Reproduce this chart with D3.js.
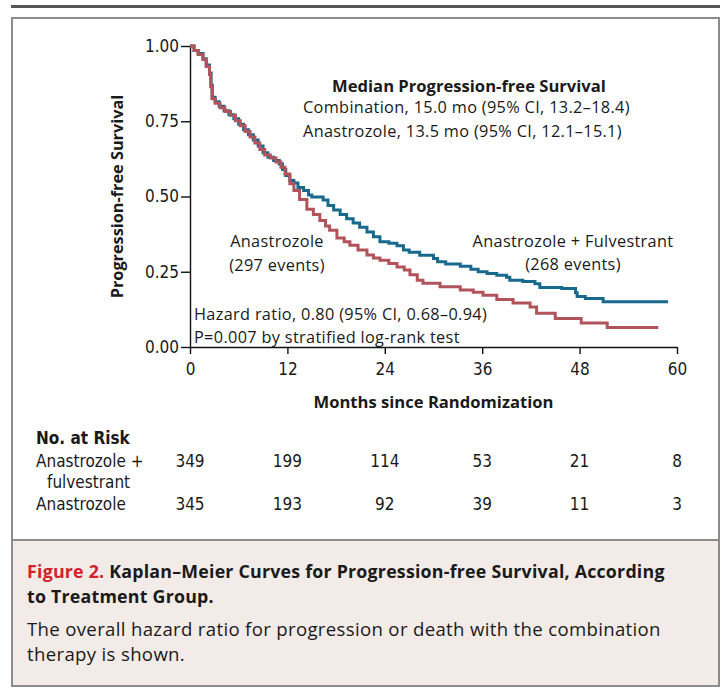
<!DOCTYPE html>
<html>
<head>
<meta charset="utf-8">
<script src="https://cdn.jsdelivr.net/npm/d3@7/dist/d3.min.js"></script>
<style>
  body { margin: 0; background: #fff; }
  svg text { fill: #1a1a1a; }
  .cond { font-family: "Liberation Sans Narrow", "DejaVu Sans Condensed", sans-serif; }
  .hum { font-family: "Open Sans", Lato, sans-serif; }
</style>
</head>
<body>
<svg id="chart" width="723" height="689"></svg>
<script>
// data: Kaplan-Meier step points [months, survival]
var comboCurve = [
  [0, 1.000], [0.5, 0.985], [1.0, 0.975], [1.6, 0.958], [2.0, 0.937], [2.4, 0.910],
  [2.6, 0.870], [2.75, 0.830], [3.1, 0.815], [3.6, 0.800], [4.2, 0.785], [4.8, 0.772],
  [5.4, 0.758], [6.0, 0.740], [6.6, 0.722], [7.2, 0.705], [7.8, 0.688], [8.4, 0.668],
  [9.0, 0.645], [9.6, 0.630], [10.3, 0.620], [11.0, 0.608], [11.4, 0.590], [11.8, 0.570],
  [12.3, 0.553], [12.8, 0.545], [13.3, 0.530], [14.0, 0.520], [14.6, 0.505], [15.0, 0.498],
  [16.4, 0.488], [17.0, 0.470], [17.7, 0.455], [18.5, 0.440], [19.3, 0.426], [20.1, 0.412],
  [20.9, 0.398], [21.8, 0.382], [22.6, 0.366], [23.4, 0.350], [24.5, 0.345], [25.5, 0.336],
  [26.3, 0.322], [27.0, 0.315], [28.3, 0.305], [30.0, 0.294], [30.5, 0.283], [31.5, 0.276],
  [33.3, 0.268], [34.6, 0.258], [35.5, 0.250], [36.6, 0.244], [37.8, 0.238], [39.0, 0.232],
  [39.4, 0.222], [41.0, 0.218], [42.5, 0.210], [43.1, 0.198], [45.8, 0.194], [47.5, 0.180],
  [47.7, 0.168], [48.7, 0.161], [50.9, 0.150], [58.9, 0.150]
];
var anaCurve = [
  [0, 1.000], [0.5, 0.985], [1.0, 0.972], [1.6, 0.955], [2.0, 0.932], [2.4, 0.905],
  [2.55, 0.865], [2.7, 0.825], [3.1, 0.810], [3.7, 0.795], [4.3, 0.782], [5.0, 0.770],
  [5.6, 0.752], [6.2, 0.735], [6.8, 0.716], [7.4, 0.698], [8.0, 0.678], [8.6, 0.656],
  [9.2, 0.638], [9.9, 0.628], [10.6, 0.615], [11.2, 0.597], [11.7, 0.575], [12.3, 0.542],
  [12.8, 0.520], [13.5, 0.490], [14.4, 0.458], [15.2, 0.440], [16.0, 0.420], [16.7, 0.402],
  [17.2, 0.388], [18.1, 0.362], [19.0, 0.350], [19.7, 0.338], [20.7, 0.322], [21.8, 0.306],
  [22.6, 0.296], [23.4, 0.288], [24.5, 0.277], [25.5, 0.266], [26.4, 0.256], [27.1, 0.240],
  [28.0, 0.222], [28.7, 0.212], [30.8, 0.200], [33.3, 0.189], [34.9, 0.182], [36.1, 0.172],
  [37.8, 0.158], [39.8, 0.146], [41.9, 0.133], [42.7, 0.112], [45.0, 0.095], [48.2, 0.080],
  [51.4, 0.065], [57.7, 0.065]
];
var monthTicks = [0, 12, 24, 36, 48, 60];
var survTicks = [0, 0.25, 0.5, 0.75, 1];
var riskCombo = [349, 199, 114, 53, 21, 8];
var riskAna = [345, 193, 92, 39, 11, 3];

var svg = d3.select('#chart');

// frame: heavy rule on top, boxed panel, tinted caption area
svg.append('rect').attr('x', 11).attr('y', 5).attr('width', 709).attr('height', 3).attr('fill', '#555');
svg.append('rect').attr('x', 11).attr('y', 540).attr('width', 709).attr('height', 147).attr('fill', '#f2ebe7');
svg.append('rect')
  .attr('x', 12).attr('y', 18).attr('width', 707).attr('height', 668)
  .attr('fill', 'none').attr('stroke', '#8c8c8c').attr('stroke-width', 2);
svg.append('line').attr('x1', 12).attr('x2', 719).attr('y1', 540).attr('y2', 540)
  .attr('stroke', '#8c8c8c').attr('stroke-width', 2);

var x = d3.scaleLinear().domain([0, 60]).range([190, 677]);
var y = d3.scaleLinear().domain([0, 1]).range([347, 46]);

var plot = svg.append('g');

var xAxis = plot.append('g')
  .attr('transform', 'translate(0,' + y(0) + ')')
  .call(d3.axisBottom(x).tickValues(monthTicks).tickSize(7).tickSizeOuter(0));
xAxis.select('.domain').attr('stroke', '#111').attr('stroke-width', 1.4);
xAxis.selectAll('.tick line').attr('stroke', '#111').attr('stroke-width', 1.4);
xAxis.selectAll('.tick text')
  .attr('class', 'cond').attr('font-size', 17).attr('dy', '1.05em').attr('fill', '#1a1a1a');

var yAxis = plot.append('g')
  .attr('transform', 'translate(' + x(0) + ',0)')
  .call(d3.axisLeft(y).tickValues(survTicks).tickFormat(d3.format('.2f')).tickSize(9).tickSizeOuter(0));
yAxis.select('.domain').attr('stroke', '#111').attr('stroke-width', 1.4);
yAxis.selectAll('.tick line').attr('stroke', '#111').attr('stroke-width', 1.4);
yAxis.selectAll('.tick text')
  .attr('class', 'cond').attr('font-size', 17).attr('x', -11).attr('fill', '#1a1a1a');

// curves: blue first so red sits on top where they overlap
var line = d3.line()
  .x(function(d) { return x(d[0]); })
  .y(function(d) { return y(d[1]); })
  .curve(d3.curveStepAfter);

plot.append('path').datum(comboCurve)
  .attr('d', line).attr('fill', 'none')
  .attr('stroke', '#176a8d').attr('stroke-width', 3);
plot.append('path').datum(anaCurve)
  .attr('d', line).attr('fill', 'none')
  .attr('stroke', '#b1535a').attr('stroke-width', 3);

// axis titles
svg.append('text').attr('class', 'hum')
  .attr('x', x(30)).attr('y', 408).attr('text-anchor', 'middle')
  .attr('font-size', 16.6).attr('font-weight', 'bold')
  .text('Months since Randomization');
svg.append('text').attr('class', 'hum')
  .attr('transform', 'translate(123,' + y(0.5) + ') rotate(-90)')
  .attr('text-anchor', 'middle').attr('font-size', 16.3).attr('font-weight', 'bold')
  .text('Progression-free Survival');

// annotations
function addText(tx, ty, str, anchor, size, weight, spacing) {
  return svg.append('text').attr('class', 'hum')
    .attr('x', tx).attr('y', ty)
    .attr('text-anchor', anchor || 'start')
    .attr('font-size', size || 16.3)
    .attr('font-weight', weight || 'normal')
    .attr('letter-spacing', spacing === undefined ? 0.33 : spacing)
    .text(str);
}
addText(469, 92, 'Median Progression-free Survival', 'middle', 16.6, 'bold', 0);
addText(303, 113, 'Combination, 15.0 mo (95% CI, 13.2\u201318.4)');
addText(303, 137, 'Anastrozole, 13.5 mo (95% CI, 12.1\u201315.1)');
addText(277, 247, 'Anastrozole', 'middle');
addText(277, 271, '(297 events)', 'middle');
addText(573, 247, 'Anastrozole + Fulvestrant', 'middle');
addText(573, 270, '(268 events)', 'middle');
addText(194, 320, 'Hazard ratio, 0.80 (95% CI, 0.68\u20130.94)');
addText(194, 343, 'P=0.007 by stratified log-rank test');

// number at risk table
var risk = svg.append('g').attr('class', 'cond').attr('font-size', 17);
risk.append('text').attr('x', 36).attr('y', 444).attr('font-weight', 'bold').text('No. at Risk');
risk.append('text').attr('x', 36).attr('y', 467).text('Anastrozole +');
risk.append('text').attr('x', 47).attr('y', 488).text('fulvestrant');
risk.append('text').attr('x', 36).attr('y', 510).text('Anastrozole');
risk.selectAll('text.rc').data(riskCombo).enter().append('text')
  .attr('class', 'rc').attr('text-anchor', 'middle')
  .attr('x', function(d, i) { return x(monthTicks[i]); }).attr('y', 467)
  .text(function(d) { return d; });
risk.selectAll('text.ra').data(riskAna).enter().append('text')
  .attr('class', 'ra').attr('text-anchor', 'middle')
  .attr('x', function(d, i) { return x(monthTicks[i]); }).attr('y', 510)
  .text(function(d) { return d; });

// caption
var cap = svg.append('text').attr('class', 'hum').attr('font-size', 17.8)
  .attr('letter-spacing', 0.22).attr('x', 27).attr('y', 578);
cap.append('tspan').attr('fill', '#d2232a').attr('font-weight', 'bold').text('Figure 2. ');
cap.append('tspan').attr('font-weight', 'bold').text('Kaplan\u2013Meier Curves for Progression-free Survival, According');
addText(27, 603, 'to Treatment Group.', 'start', 17.8, 'bold', 0.22);
addText(27, 636, 'The overall hazard ratio for progression or death with the combination', 'start', 18.6, 'normal', 0.33);
addText(27, 661, 'therapy is shown.', 'start', 18.6, 'normal', 0.33);
</script>
</body>
</html>
